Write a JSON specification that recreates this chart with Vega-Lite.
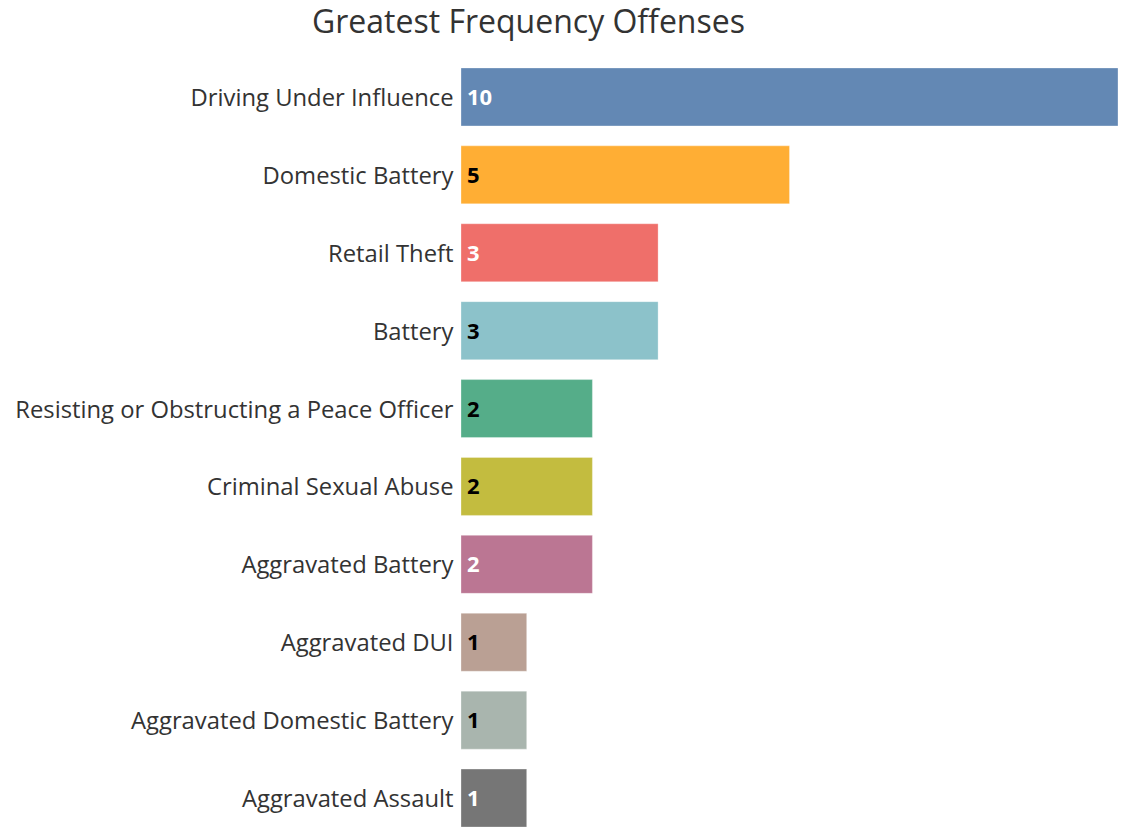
{
  "$schema": "https://vega.github.io/schema/vega-lite/v6.json",
  "width": 657,
  "height": 779,
  "autosize": {"type": "none"},
  "padding": {"left": 461, "top": 58, "right": 15, "bottom": 0},
  "background": "white",
  "config": {"view": {"stroke": null}, "font": "Open Sans"},
  "title": {
    "text": "Greatest Frequency Offenses",
    "anchor": "start",
    "frame": "group",
    "dx": -149,
    "offset": 18,
    "fontSize": 32,
    "fontWeight": "normal",
    "color": "#333333",
    "font": "Open Sans"
  },
  "data": {
    "values": [
      {"offense": "Driving Under Influence", "count": 10},
      {"offense": "Domestic Battery", "count": 5},
      {"offense": "Retail Theft", "count": 3},
      {"offense": "Battery", "count": 3},
      {"offense": "Resisting or Obstructing a Peace Officer", "count": 2},
      {"offense": "Criminal Sexual Abuse", "count": 2},
      {"offense": "Aggravated Battery", "count": 2},
      {"offense": "Aggravated DUI", "count": 1},
      {"offense": "Aggravated Domestic Battery", "count": 1},
      {"offense": "Aggravated Assault", "count": 1}
    ]
  },
  "encoding": {
    "y": {
      "field": "offense",
      "type": "nominal",
      "sort": null,
      "scale": {"paddingInner": 0.256, "paddingOuter": 0.128},
      "axis": {
        "title": null,
        "domain": false,
        "ticks": false,
        "labelFontSize": 23.8,
        "labelColor": "#333333",
        "labelPadding": 8,
        "labelOffset": 2,
        "labelFont": "Open Sans",
        "labelLimit": 600
      }
    }
  },
  "layer": [
    {
      "mark": {"type": "bar", "stroke": "white", "strokeWidth": 0.5, "strokeOpacity": 0.6},
      "encoding": {
        "x": {
          "field": "count",
          "type": "quantitative",
          "scale": {"domain": [0, 10], "nice": false},
          "axis": null
        },
        "color": {
          "field": "offense",
          "type": "nominal",
          "sort": null,
          "legend": null,
          "scale": {
            "range": ["#6388b4", "#ffae34", "#ef6f6a", "#8cc2ca", "#55ad89", "#c3bc3f", "#bb7693", "#baa094", "#a9b5ae", "#767676"]
          }
        }
      }
    },
    {
      "mark": {"type": "text", "align": "left", "baseline": "middle", "dx": 6, "dy": 1, "fontSize": 22, "fontWeight": "bold", "font": "Open Sans"},
      "encoding": {
        "x": {"datum": 0, "type": "quantitative"},
        "text": {"field": "count", "type": "quantitative"},
        "color": {
          "condition": {
            "test": "indexof(['Driving Under Influence','Retail Theft','Aggravated Battery','Aggravated Assault'], datum.offense) >= 0",
            "value": "white"
          },
          "value": "black"
        }
      }
    }
  ]
}
